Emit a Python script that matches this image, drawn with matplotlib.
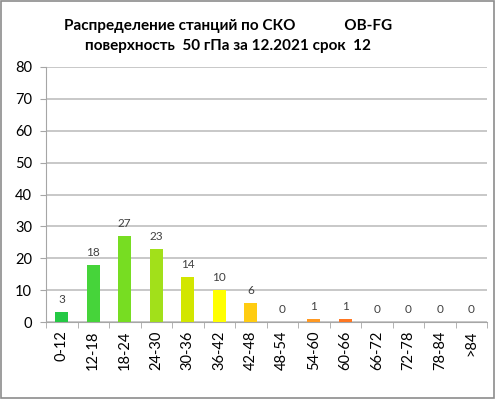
import matplotlib.pyplot as plt
import numpy as np

categories = ["0-12", "12-18", "18-24", "24-30", "30-36", "36-42", "42-48",
              "48-54", "54-60", "60-66", "66-72", "72-78", "78-84", ">84"]
counts = [3, 18, 27, 23, 14, 10, 6, 0, 1, 1, 0, 0, 0, 0]
bar_colors = ["#24C944", "#46D43A", "#77DD22", "#A2E01A", "#D2E600", "#FFFF00",
              "#FFCC11", "#FFAA33", "#FF9922", "#FF7722", "#FF6622", "#FF5522",
              "#FF4422", "#FF3322"]
yticks = [0, 10, 20, 30, 40, 50, 60, 70, 80]

plt.rcParams["font.family"] = ["Lato", "DejaVu Sans"]

fig = plt.figure(figsize=(4.96, 3.99), dpi=100)
ax = fig.add_axes([46 / 496, 1 - 322 / 399, 441 / 496, 255 / 399])

x = np.arange(len(categories))
ax.bar(x, counts, width=0.42, color=bar_colors, zorder=3)

for xi, v in zip(x, counts):
    ax.text(xi, v + 2.2, str(v), ha="center", va="bottom", fontsize=8.5,
            color="#404040")

ax.set_xlim(-0.5, len(categories) - 0.5)
ax.set_ylim(0, 80)
ax.set_yticks(yticks)
ax.set_yticklabels([str(t) for t in yticks], fontsize=10.5)
ax.set_xticks(x)
ax.set_xticklabels(categories, rotation=90, fontsize=10.5)
ax.set_xticks(np.arange(len(categories) + 1) - 0.5, minor=True)
ax.tick_params(axis="x", which="major", length=0, pad=6)
ax.tick_params(axis="x", which="minor", length=4, color="#a6a6a6")
ax.tick_params(axis="y", length=4, color="#a6a6a6", pad=6)

ax.yaxis.grid(True, color="#bfbfbf", linewidth=1.2, zorder=0)
for s in ["top", "right"]:
    ax.spines[s].set_visible(False)
ax.spines["left"].set_color("#a6a6a6")
ax.spines["bottom"].set_color("#a6a6a6")

fig.text(228 / 496, 1 - 26 / 399,
         "Распределение станций по СКО             OB-FG",
         ha="center", va="center", fontsize=11, fontweight="bold")
fig.text(228 / 496, 1 - 46 / 399,
         "поверхность  50 гПа за 12.2021 срок  12",
         ha="center", va="center", fontsize=11, fontweight="bold")

# рамка вокруг картинки
fig.patches.append(plt.Rectangle((0.002, 0.003), 0.994, 0.994, fill=False,
                                 edgecolor="#8c8c8c", linewidth=1.2,
                                 transform=fig.transFigure))

fig.savefig("out.png", dpi=100)
